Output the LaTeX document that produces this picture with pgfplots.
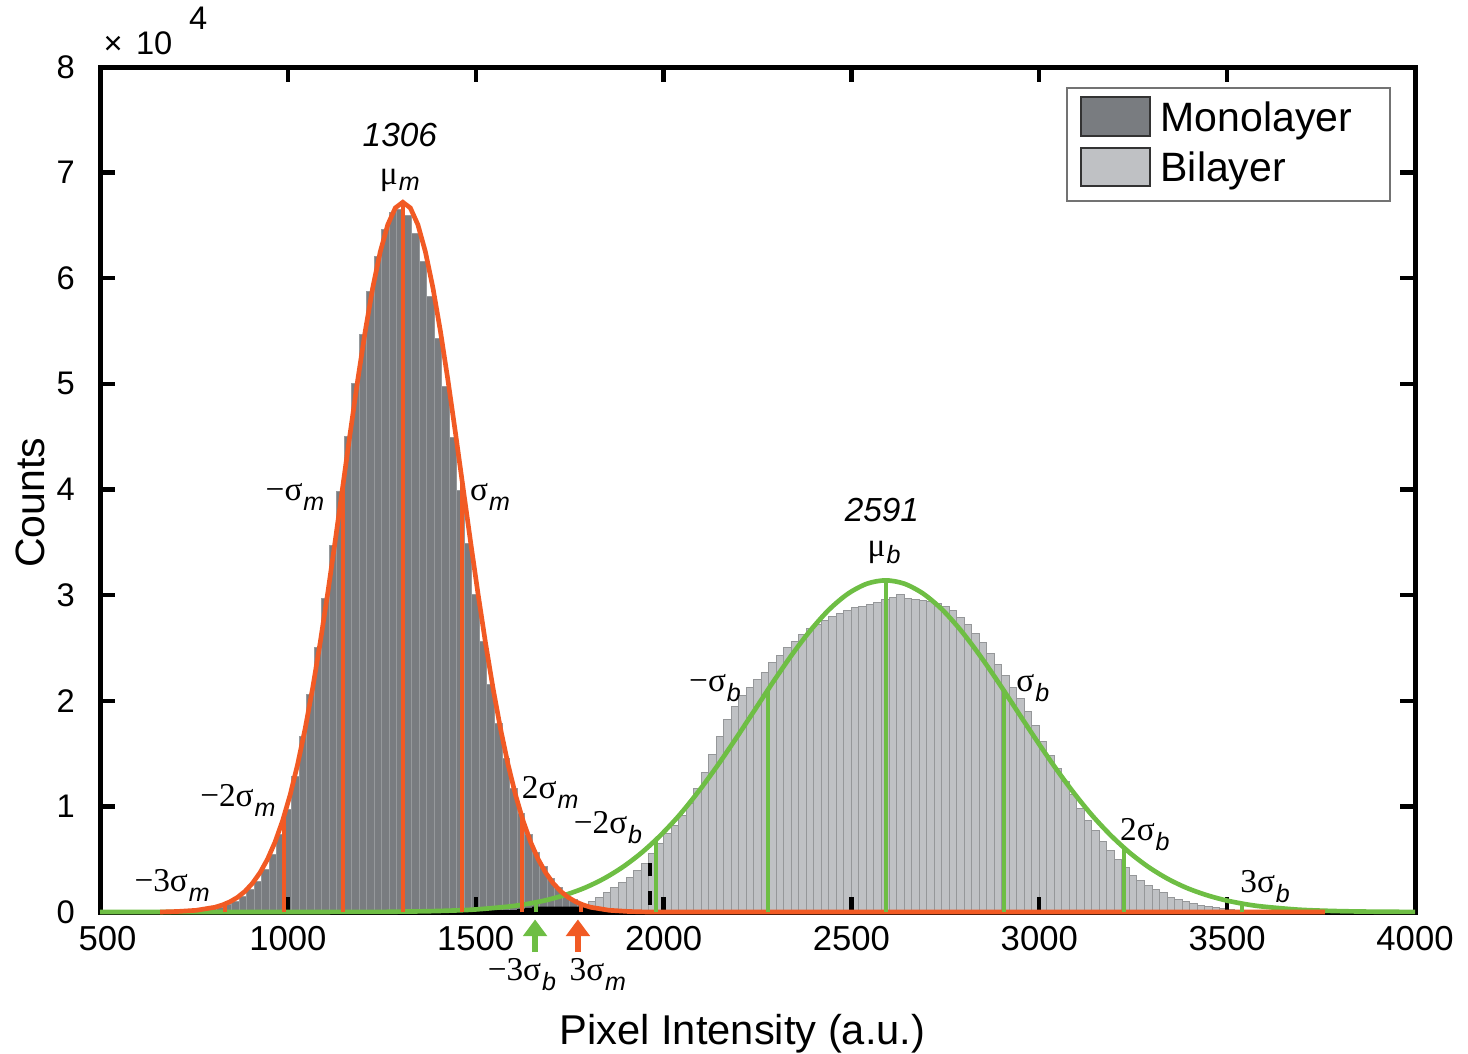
\documentclass[border=0pt]{standalone}
\usepackage{fontspec}
\setmainfont{Liberation Sans}
\newfontfamily\tms{Liberation Serif}
\usepackage{pgfplots}
\pgfplotsset{compat=1.18}
\usepackage{pgfplotstable}
\usetikzlibrary{arrows.meta}

\definecolor{monogray}{RGB}{121,124,128}
\definecolor{bigray}{RGB}{191,193,196}
\definecolor{fitorange}{RGB}{241,90,36}
\definecolor{fitgreen}{RGB}{110,190,68}

% histogram bins: left edge, counts (x 10^4)
\pgfplotstableread{
x y
730 0.007
750 0.012
770 0.020
790 0.030
810 0.045
830 0.068
850 0.10
870 0.145
890 0.21
910 0.29
930 0.40
950 0.54
970 0.73
990 0.97
1010 1.28
1030 1.66
1050 2.06
1070 2.50
1090 2.97
1110 3.47
1130 3.98
1150 4.50
1170 5.00
1190 5.47
1210 5.87
1230 6.21
1250 6.46
1270 6.62
1290 6.65
1310 6.59
1330 6.42
1350 6.16
1370 5.83
1390 5.43
1410 4.98
1430 4.49
1450 3.99
1470 3.49
1490 3.01
1510 2.56
1530 2.15
1550 1.78
1570 1.45
1590 1.17
1610 0.93
1630 0.73
1650 0.56
1670 0.43
1690 0.32
1710 0.235
1730 0.17
1750 0.12
1770 0.085
1790 0.06
1810 0.04
1830 0.026
1850 0.016
1870 0.01
1890 0.006
1910 0
}\mono

\pgfplotstableread{
x y
1740 0.02
1760 0.04
1780 0.07
1800 0.10
1820 0.14
1840 0.18
1860 0.23
1880 0.28
1900 0.33
1920 0.39
1940 0.46
1960 0.55
1980 0.65
2000 0.74
2020 0.82
2040 0.91
2060 1.03
2080 1.17
2100 1.32
2120 1.49
2140 1.66
2160 1.82
2180 1.95
2200 2.05
2220 2.13
2240 2.20
2260 2.27
2280 2.36
2300 2.43
2320 2.50
2340 2.56
2360 2.63
2380 2.68
2400 2.72
2420 2.76
2440 2.80
2460 2.83
2480 2.85
2500 2.88
2520 2.89
2540 2.91
2560 2.93
2580 2.96
2600 2.98
2620 3.01
2640 2.97
2660 2.96
2680 2.95
2700 2.94
2720 2.92
2740 2.89
2760 2.85
2780 2.79
2800 2.72
2820 2.64
2840 2.55
2860 2.45
2880 2.34
2900 2.24
2920 2.13
2940 2.02
2960 1.90
2980 1.77
3000 1.61
3020 1.48
3040 1.36
3060 1.24
3080 1.11
3100 0.98
3120 0.87
3140 0.77
3160 0.67
3180 0.58
3200 0.50
3220 0.42
3240 0.35
3260 0.30
3280 0.25
3300 0.21
3320 0.18
3340 0.14
3360 0.12
3380 0.10
3400 0.08
3420 0.06
3440 0.05
3460 0.04
3480 0.03
3500 0.02
3520 0.01
3540 0
}\bilayer

\pgfplotstableread{
x y
1610 0.03
1630 0.04
1650 0.05
1670 0.05
1690 0.05
1710 0.05
1730 0.05
1750 0.05
1770 0.05
1790 0.045
1810 0.04
1830 0.035
1850 0.03
1870 0
}\overlap

% sigma label: serif symbol, lowered italic sans subscript
\newcommand{\sg}[3][-3pt]{{\tms #2}\kern0.3pt\raisebox{#1}{\fontsize{7.5}{9}\selectfont\itshape #3}}

\begin{document}
\begin{tikzpicture}
\begin{axis}[
    scale only axis,
    width=394.5pt, height=253.5pt,
    xmin=500, xmax=4000, ymin=0, ymax=8,
    xtick={500,1000,...,4000},
    xticklabels={{\hspace{4.5pt}500},1000,1500,2000,2500,3000,3500,4000},
    ytick={0,1,...,8},
    tick align=inside,
    major tick length=4.5pt,
    every tick/.style={black, line width=1.3pt},
    axis line style={line width=1.5pt},
    axis on top,
    /pgf/number format/1000 sep={},
    /pgf/number format/assume math mode=true,
    xticklabel style={font=\fontsize{10.4}{12}\selectfont, yshift=-0.8pt},
    yticklabel style={font=\fontsize{9.8}{12}\selectfont, xshift=-4pt},
  ]
  \addplot[ybar interval, fill=bigray, draw=bigray!78!black, line width=0.3pt] table {\bilayer};
  \addplot[ybar interval, fill=monogray, draw=monogray!78!white, line width=0.3pt] table {\mono};
  \addplot[ybar interval, fill=black, draw=none] table {\overlap};
\end{axis}

\begin{axis}[
    scale only axis,
    width=394.5pt, height=253.5pt,
    xmin=500, xmax=4000, ymin=0, ymax=8,
    hide axis, clip=false,
  ]
  % bilayer fit
  \addplot[fitgreen, line width=1.4pt, smooth] coordinates {
    (500,0) (1191,0.0011) (1291,0.0032) (1391,0.0088) (1491,0.022) (1591,0.053)
    (1641,0.079) (1691,0.115) (1741,0.165) (1791,0.230) (1841,0.316) (1891,0.425)
    (1941,0.560) (1991,0.723) (2041,0.913) (2091,1.132) (2141,1.374) (2191,1.634)
    (2241,1.904) (2291,2.175) (2341,2.433) (2391,2.667) (2441,2.865) (2491,3.014)
    (2541,3.108) (2591,3.140) (2641,3.108) (2691,3.014) (2741,2.865) (2791,2.667)
    (2841,2.433) (2891,2.175) (2941,1.904) (2991,1.634) (3041,1.374) (3091,1.132)
    (3141,0.913) (3191,0.723) (3241,0.560) (3291,0.425) (3341,0.316) (3391,0.230)
    (3441,0.165) (3491,0.115) (3541,0.079) (3591,0.053) (3691,0.022) (3791,0.0088)
    (3891,0.0032) (4000,0.001)
  };
  % monolayer fit
  \addplot[fitorange, line width=1.4pt] coordinates {
    (660,0) (706,0.005) (756,0.016) (806,0.045) (826,0.067) (846,0.097) (866,0.139)
    (886,0.196) (906,0.273) (926,0.373) (946,0.501) (966,0.663) (986,0.864)
    (1006,1.108) (1026,1.398) (1046,1.735) (1066,2.120) (1086,2.549) (1106,3.016)
    (1126,3.512) (1146,4.025) (1166,4.538) (1186,5.037) (1206,5.500) (1226,5.912)
    (1246,6.252) (1266,6.508) (1286,6.666) (1306,6.720) (1326,6.666) (1346,6.508)
    (1366,6.252) (1386,5.912) (1406,5.500) (1426,5.037) (1446,4.538) (1466,4.025)
    (1486,3.512) (1506,3.016) (1526,2.549) (1546,2.120) (1566,1.735) (1586,1.398)
    (1606,1.108) (1626,0.864) (1646,0.663) (1666,0.501) (1686,0.373) (1706,0.273)
    (1726,0.196) (1746,0.139) (1766,0.097) (1786,0.067) (1806,0.045) (1856,0.016)
    (1906,0.005) (1960,0) (3760,0)
  };
  % sigma markers
  \addplot[fitorange, line width=1.2pt, ycomb] coordinates {
    (832,0.075) (990,0.913) (1148,4.076) (1306,6.72) (1464,4.076) (1622,0.913) (1780,0.075)
  };
  \addplot[fitgreen, line width=1.2pt, ycomb] coordinates {
    (1660,0.091) (1980,0.687) (2278,2.105) (2591,3.14) (2906,2.094) (3225,0.612) (3540,0.080)
  };
  \draw[black, line width=1.3pt, dash pattern=on 4pt off 4.5pt] (axis cs:1964,0.07) -- (axis cs:1964,0.47);

  % labels
  \begin{scope}[every node/.style={font=\fontsize{10}{12}\selectfont, inner sep=0pt}]
    \node[font=\fontsize{10}{12}\selectfont\itshape] at (axis cs:1298,7.356) {1306};
    \node at (axis cs:1298,6.93) {\sg[-2pt]{μ}{m}};
    \node at (axis cs:1019,3.93) {\sg{−σ}{m}};
    \node at (axis cs:1538,3.93) {\sg{σ}{m}};
    \node at (axis cs:867,1.06) {\sg{−2σ}{m}};
    \node at (axis cs:1698,1.13) {\sg{2σ}{m}};
    \node at (axis cs:692,0.256) {\sg{−3σ}{m}};
    \node[font=\fontsize{10}{12}\selectfont\itshape] at (axis cs:2581,3.806) {2591};
    \node at (axis cs:2587,3.40) {\sg[-2pt]{μ}{b}};
    \node at (axis cs:2137,2.12) {\sg{−σ}{b}};
    \node at (axis cs:2983,2.12) {\sg{σ}{b}};
    \node at (axis cs:1852,0.795) {\sg{−2σ}{b}};
    \node at (axis cs:3281,0.73) {\sg{2σ}{b}};
    \node at (axis cs:3601,0.237) {\sg{3σ}{b}};
    \node at (axis cs:1623,-0.596) {\sg{−3σ}{b}};
    \node at (axis cs:1825,-0.596) {\sg{3σ}{m}};
  \end{scope}
  \draw[-{Triangle[width=7pt,length=5pt]}, line width=1.6pt, fitgreen] (axis cs:1658,-0.38) -- (axis cs:1658,-0.07);
  \draw[-{Triangle[width=7pt,length=5pt]}, line width=1.6pt, fitorange] (axis cs:1772,-0.38) -- (axis cs:1772,-0.07);

  % exponent
  \node[anchor=base west, inner sep=0pt, font=\fontsize{9.8}{12}\selectfont] at (axis cs:508,8.114) {×\hspace{4pt}10\hspace{5pt}\raisebox{7.5pt}{4}};
  % axis labels
  \node[anchor=base, inner sep=0pt, font=\fontsize{12.5}{14}\selectfont] at (axis cs:2210,-1.259) {Pixel Intensity (a.u.)};
  \node[anchor=base, rotate=90, inner sep=0pt, font=\fontsize{12.3}{14}\selectfont] at (axis cs:351,3.872) {Counts};

  % legend
  \draw[black!55, line width=0.6pt, fill=white] (axis cs:3074,6.731) rectangle (axis cs:3934,7.801);
  \draw[black!80, line width=0.7pt, fill=monogray] (axis cs:3111,7.347) rectangle (axis cs:3295,7.716);
  \draw[black!80, line width=0.7pt, fill=bigray] (axis cs:3111,6.873) rectangle (axis cs:3295,7.233);
  \node[anchor=base west, inner sep=0pt, font=\fontsize{12.3}{14}\selectfont] at (axis cs:3321,7.387) {Monolayer};
  \node[anchor=base west, inner sep=0pt, font=\fontsize{12.3}{14}\selectfont] at (axis cs:3321,6.914) {Bilayer};
\end{axis}
\pgfresetboundingbox
\path[use as bounding box] (-30pt,-42.3pt) rectangle (410.4pt,273.6pt);
\end{tikzpicture}
\end{document}
